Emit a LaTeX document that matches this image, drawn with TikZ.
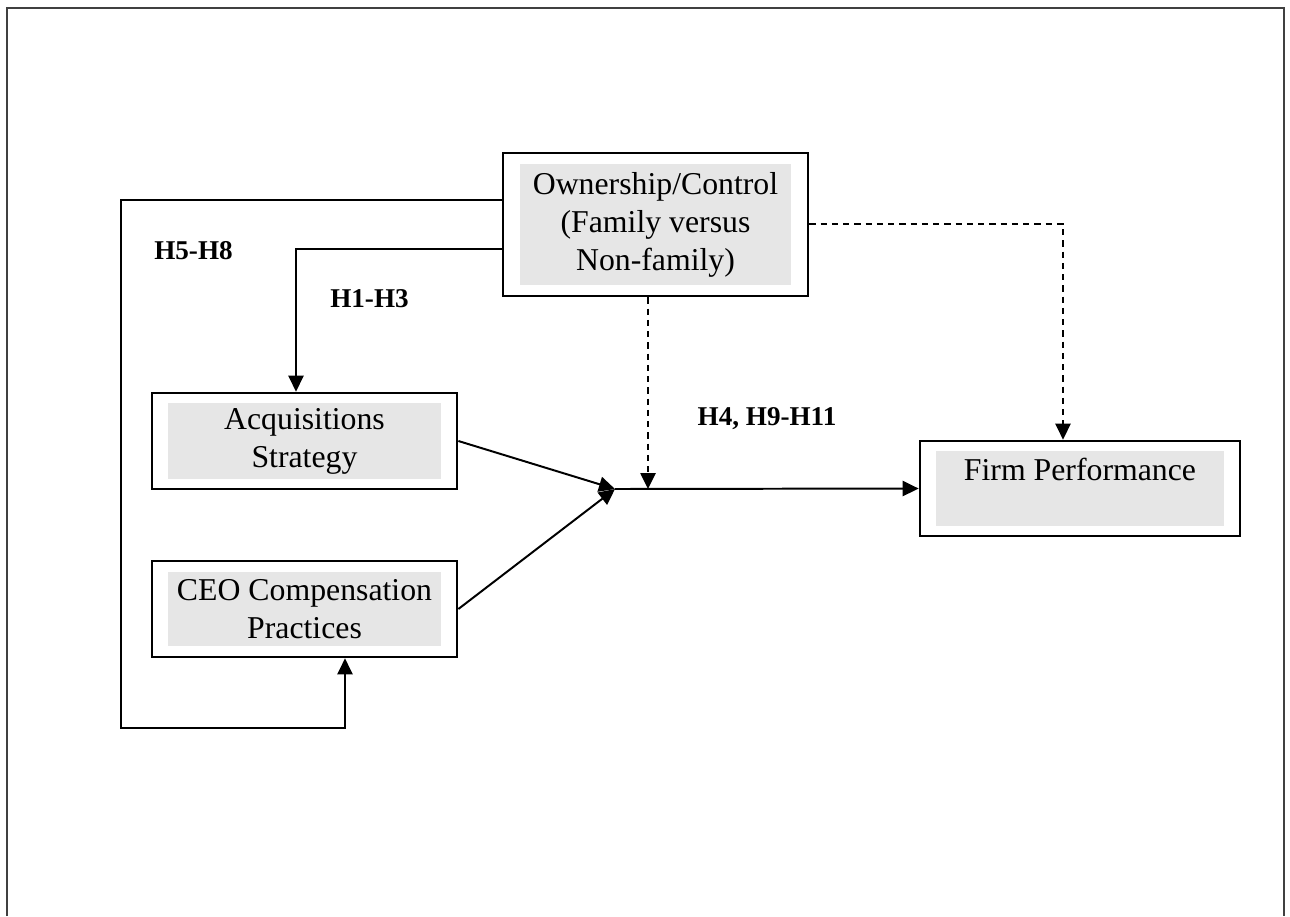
\documentclass[tikz,border=0pt]{standalone}
\usepackage{fontspec}
\setmainfont{Liberation Serif}
\usetikzlibrary{arrows.meta,calc}
\definecolor{boxgray}{HTML}{E6E6E6}

\begin{document}
\begin{tikzpicture}[x=0.025cm,y=-0.025cm,
    outerbox/.style={draw,line width=1.9pt,fill=white,inner sep=0pt},
    graybox/.style={fill=boxgray,inner sep=0pt,align=center,
      font=\fontsize{22.6}{27}\selectfont},
    hlabel/.style={font=\fontsize{19.3}{22}\selectfont\bfseries},
    link/.style={line width=1.4pt,-{Triangle[length=0.4cm,width=0.38cm]}},
    dashlink/.style={link,dash pattern=on 4.5pt off 3.5pt}]
  \useasboundingbox (0,0) rectangle (1290,916);
  \draw[line width=0.8pt,black!75] (7,916) -- (7,8) -- (1284,8) -- (1284,916);

  \node[outerbox,minimum width=7.625cm,minimum height=3.575cm] (own) at (655.5,224.5) {};
  \node[graybox,minimum width=6.775cm,minimum height=3.025cm] (owntxt) at (own) {Ownership/Control\\(Family versus\\Non-family)};
  \node[outerbox,minimum width=7.625cm,minimum height=2.4cm] (acq) at (304.5,441) {};
  \node[graybox,minimum width=6.8cm,minimum height=1.875cm] (acqtxt) at (acq) {Acquisitions\\Strategy};
  \node[outerbox,minimum width=7.625cm,minimum height=2.4cm] (ceo) at (304.5,609) {};
  \node[graybox,minimum width=6.8cm,minimum height=1.85cm] (ceotxt) at (ceo) {CEO Compensation\\Practices};
  \node[outerbox,minimum width=8cm,minimum height=2.375cm] (firm) at (1080,488.5) {};
  \node[graybox,minimum width=7.175cm,minimum height=1.875cm] (firmtxt) at (firm) {Firm Performance\\\mbox{}};

  \node[hlabel] (h58) at (193.5,251) {H5-H8};
  \node[hlabel] (h13) at (369.5,299) {H1-H3};
  \node[hlabel] (h411) at (767,419) {H4, H9-H11};

  \coordinate (ta) at (121,200);
  \coordinate (tb) at (345,728);
  \coordinate (ua) at (296,249);
  \coordinate (j) at (615,489);
  \coordinate (k) at (648,489);
  \coordinate (m) at (1063,224);

  \draw[link] (own.west |- ta) -- (ta) |- (tb) -- (ceo.south -| tb);
  \draw[link] (own.west |- ua) -- (ua) -- (acq.north -| ua);
  \draw[link] (acq.east) -- (j);
  \draw[link] (ceo.east) -- (j);
  \draw[link] (j) -- (firm.west);
  \draw[dashlink] (own.south -| k) -- (k);
  \draw[dashlink] (own.east |- m) -- (m) -- (firm.north -| m);
\end{tikzpicture}
\end{document}
